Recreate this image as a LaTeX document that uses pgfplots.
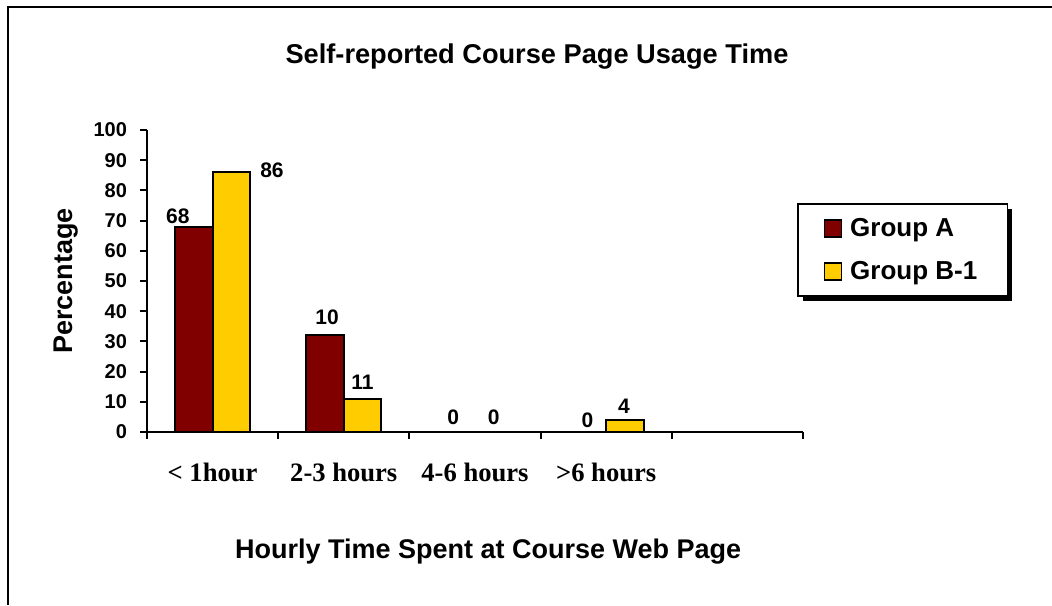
\documentclass[border=0pt]{standalone}
\usepackage{fontspec}
\setmainfont{Liberation Sans}
\newfontfamily\catfont{Liberation Serif}
\usepackage{pgfplots}
\usepackage{pgfplotstable}
\pgfplotsset{compat=1.18}
\usetikzlibrary{shadows}

\definecolor{grpA}{HTML}{800000}
\definecolor{grpB}{HTML}{FFCC00}

% the legend box shadow must not reach the legend squares
\makeatletter
\tikzset{no preactions/.code={\let\tikz@preactions\pgfutil@empty}}
\makeatother

% x, bar height, printed label, label offsets (pt)
\pgfplotstableread{
x y lbl dx dy
0 68 68 -8 5.3
1 32 10 1 9
2 0 0 -1.5 7.5
3 0 0 0 6
}\groupA
\pgfplotstableread{
x y lbl dx dy
0 86 86 20.3 1.2
1 11 11 0 8.5
2 0 0 0 7.5
3 4 4 -0.5 7
}\groupB

\begin{document}
\begin{tikzpicture}
  \path[use as bounding box] (-73.5pt,-86.5pt) rectangle (452.5pt,216pt);
  \draw[line width=0.8pt] (452.5pt,212.5pt) -- (-69.5pt,212.5pt) -- (-69.5pt,-86.5pt);
  \begin{axis}[
    at={(0pt,0pt)}, anchor=south west,
    scale only axis,
    width=328pt, height=151pt,
    ybar=0pt,
    bar width=0.286,
    xmin=-0.5, xmax=4.5,
    ymin=0, ymax=100,
    axis lines=left,
    axis line style={-, line width=1pt},
    tick style={line width=1pt, black},
    tick align=outside,
    major tick length=3.5pt,
    xtick={-0.5,0.5,...,4.5},
    x tick label as interval,
    xticklabels={\textless{} 1hour, 2-3 hours, 4-6 hours, >6 hours, {}},
    xticklabel style={font=\catfont\bfseries\fontsize{13.3}{15}\selectfont, yshift=-8.5pt},
    ytick={0,10,...,100},
    yticklabel style={font=\bfseries\fontsize{10}{12}\selectfont, xshift=-3pt},
    /pgf/number format/assume math mode=true,
    title={Self-reported Course Page Usage Time},
    title style={font=\bfseries\fontsize{13.6}{16}\selectfont, at={(axis description cs:0.5945,1.205)}, anchor=center},
    xlabel={Hourly Time Spent at Course Web Page},
    xlabel style={font=\bfseries\fontsize{13.5}{16}\selectfont, at={(axis description cs:0.52,-0.397)}, anchor=center},
    ylabel={Percentage},
    ylabel style={font=\bfseries\fontsize{13.5}{16}\selectfont, at={(axis description cs:-0.124,0.5)}, anchor=center},
    legend style={at={(axis description cs:0.9909,0.758)}, anchor=north west,
      draw=black, line width=0.8pt, fill=white,
      drop shadow={shadow xshift=2.5pt, shadow yshift=-2.5pt, fill=black, opacity=1},
      font=\bfseries\fontsize{13}{15}\selectfont,
      inner xsep=13pt, inner ysep=5pt, row sep=7pt, column sep=2pt,
      nodes={inner sep=2pt}},
    legend cell align=left,
    legend image code/.code={\draw[#1,/tikz/.cd,no preactions,line width=0.7pt] (0pt,-4.25pt) rectangle (8.5pt,4.25pt);},
    nodes near coords,
    point meta=explicit symbolic,
    visualization depends on={\thisrow{dx} \as \dx},
    visualization depends on={\thisrow{dy} \as \dy},
    every node near coord/.append style={anchor=center, xshift=\dx pt, yshift=\dy pt,
      font=\bfseries\fontsize{10.5}{12}\selectfont, black},
    ]
    \addplot[fill=grpA, draw=black, line width=0.9pt] table[x=x, y=y, meta=lbl] {\groupA};
    \addplot[fill=grpB, draw=black, line width=0.9pt] table[x=x, y=y, meta=lbl] {\groupB};
    \legend{Group A, Group B-1}
  \end{axis}
\end{tikzpicture}
\end{document}
